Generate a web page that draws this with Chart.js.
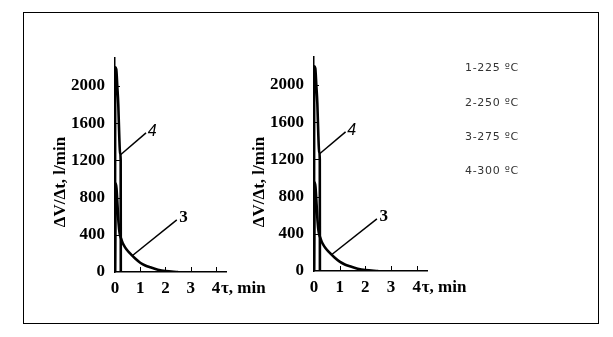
<!DOCTYPE html>
<html>
<head>
<meta charset="utf-8">
<script src="https://cdn.jsdelivr.net/npm/chart.js@4.4.1/dist/chart.umd.min.js"></script>
<style>
  body { margin: 0; background: #fff; }
  #wrap { position: relative; width: 613px; height: 337px; overflow: hidden; }
  canvas { position: absolute; left: 0; top: 0; }
  #frame { position: absolute; left: 23px; top: 12px; width: 576px; height: 312px;
           border: 1.5px solid #000; box-sizing: border-box; }
  .leg { position: absolute; left: 465px; font: 11px "DejaVu Sans", sans-serif; letter-spacing: 0.7px;
         color: #333; line-height: 12px; white-space: nowrap; }
</style>
</head>
<body>
<div id="wrap">
  <div id="frame"></div>
  <canvas id="left" width="613" height="337"></canvas>
  <canvas id="right" width="613" height="337"></canvas>
</div>
<script>
// Gas release rate ΔV/Δt (l/min) against time τ (min)
const curve3Time  = [0, 0.03, 0.06, 0.1, 0.14, 0.18, 0.24, 0.3, 0.4, 0.5, 0.65, 0.8, 1.0, 1.2, 1.4, 1.7, 2.0, 2.5];
const curve3Rate  = [0, 950, 900, 720, 530, 420, 360, 315, 265, 228, 185, 145, 100, 70, 50, 25, 10, 0];
const curve4Time  = [0, 0.01, 0.05, 0.09, 0.13, 0.17, 0.2, 0.225, 0.23];
const curve4Rate  = [0, 2200, 2180, 2000, 1800, 1450, 1280, 1200, 0];

// axis ranges and tick labels
const timeTicks = [0, 1, 2, 3, 4];
const rateTicks = [0, 400, 800, 1200, 1600, 2000];
const timeMax = 4.4;
const rateMax = 2300;

// curve number callouts: leader line from the curve to the number
const calloutText   = ['4', '3'];
const calloutFromT  = [0.22, 0.67];
const calloutFromV  = [1260, 172];
const calloutToT    = [1.23, 2.45];
const calloutToV    = [1495, 560];
const calloutLabelT = [1.47, 2.72];
const calloutLabelV = [1510, 585];

// temperature key
const legendLabels = ['1-225 ºC', '2-250 ºC', '3-275 ºC', '4-300 ºC'];
const legendTops = [62, 97, 131, 165];

const wrap = document.getElementById('wrap');
legendLabels.forEach((t, i) => {
  const d = document.createElement('div');
  d.className = 'leg';
  d.style.top = legendTops[i] + 'px';
  d.textContent = t;
  wrap.appendChild(d);
});

const toPoints = (xs, ys) => xs.map((x, i) => ({ x, y: ys[i] }));

const serifBold = (size) => 'bold ' + size + 'px "Liberation Serif", "Times New Roman", serif';
const FS = 17;

const decor = {
  id: 'decor',
  afterDraw(chart) {
    const { ctx, chartArea: a, scales: { x, y } } = chart;
    ctx.save();
    // inward tick marks
    ctx.strokeStyle = '#000';
    ctx.lineWidth = 1;
    ctx.beginPath();
    rateTicks.forEach(v => {
      if (v === 0) return;
      const py = Math.round(y.getPixelForValue(v)) + 0.5;
      ctx.moveTo(a.left, py); ctx.lineTo(a.left + 5, py);
    });
    timeTicks.forEach(v => {
      if (v === 0) return;
      const px = Math.round(x.getPixelForValue(v)) + 0.5;
      ctx.moveTo(px, a.bottom); ctx.lineTo(px, a.bottom - 5);
    });
    ctx.stroke();

    // axis titles
    ctx.fillStyle = '#000';
    ctx.font = serifBold(FS);
    ctx.textBaseline = 'middle';
    ctx.textAlign = 'left';
    ctx.fillText('τ, min', x.getPixelForValue(4) + 5, a.bottom + 17);
    ctx.save();
    ctx.translate(a.left - 54, 182);
    ctx.rotate(-Math.PI / 2);
    ctx.textAlign = 'center';
    ctx.fillText('ΔV/Δt, l/min', 0, 0);
    ctx.restore();

    // callouts
    ctx.lineWidth = 1.5;
    calloutText.forEach((t, i) => {
      ctx.beginPath();
      ctx.moveTo(x.getPixelForValue(calloutFromT[i]), y.getPixelForValue(calloutFromV[i]));
      ctx.lineTo(x.getPixelForValue(calloutToT[i]), y.getPixelForValue(calloutToV[i]));
      ctx.stroke();
      ctx.font = t === '4' ? 'italic 16px "Liberation Sans", Arial, sans-serif' : serifBold(FS);
      ctx.textAlign = 'center';
      ctx.fillText(t, x.getPixelForValue(calloutLabelT[i]), y.getPixelForValue(calloutLabelV[i]));
    });
    ctx.restore();
  }
};

const tickFont = { family: '"Liberation Serif", serif', size: FS, weight: 'bold' };

function makeChart(id, area) {
  const yW = 60, xH = 30;
  return new Chart(document.getElementById(id), {
    type: 'line',
    data: {
      datasets: [
        { label: '3', data: toPoints(curve3Time, curve3Rate) },
        { label: '4', data: toPoints(curve4Time, curve4Rate) }
      ]
    },
    options: {
      responsive: false,
      animation: false,
      events: [],
      layout: {
        padding: {
          left: area.left - yW,
          top: area.top,
          right: 613 - area.right,
          bottom: 337 - area.bottom - xH
        }
      },
      elements: {
        point: { radius: 0 },
        line: { borderColor: '#000', borderWidth: 2.6, tension: 0, cubicInterpolationMode: 'monotone', fill: false }
      },
      plugins: { legend: { display: false }, tooltip: { enabled: false } },
      scales: {
        x: {
          type: 'linear', min: 0, max: timeMax,
          afterFit(s) { s.height = xH; },
          afterBuildTicks(s) { s.ticks = timeTicks.map(v => ({ value: v })); },
          grid: { display: false, drawTicks: false },
          border: { display: true, color: '#000', width: 1.5 },
          ticks: { color: '#000', padding: 6, maxRotation: 0, font: tickFont, callback: v => String(v) }
        },
        y: {
          type: 'linear', min: 0, max: rateMax,
          afterFit(s) { s.width = yW; },
          afterBuildTicks(s) { s.ticks = rateTicks.map(v => ({ value: v })); },
          grid: { display: false, drawTicks: false },
          border: { display: true, color: '#000', width: 1.5 },
          ticks: { color: '#000', padding: 10, font: tickFont, callback: v => String(v) }
        }
      }
    },
    plugins: [decor]
  });
}

makeChart('left',  { left: 115, top: 58, right: 226, bottom: 272 });
makeChart('right', { left: 314, top: 57, right: 427, bottom: 271 });
</script>
</body>
</html>
